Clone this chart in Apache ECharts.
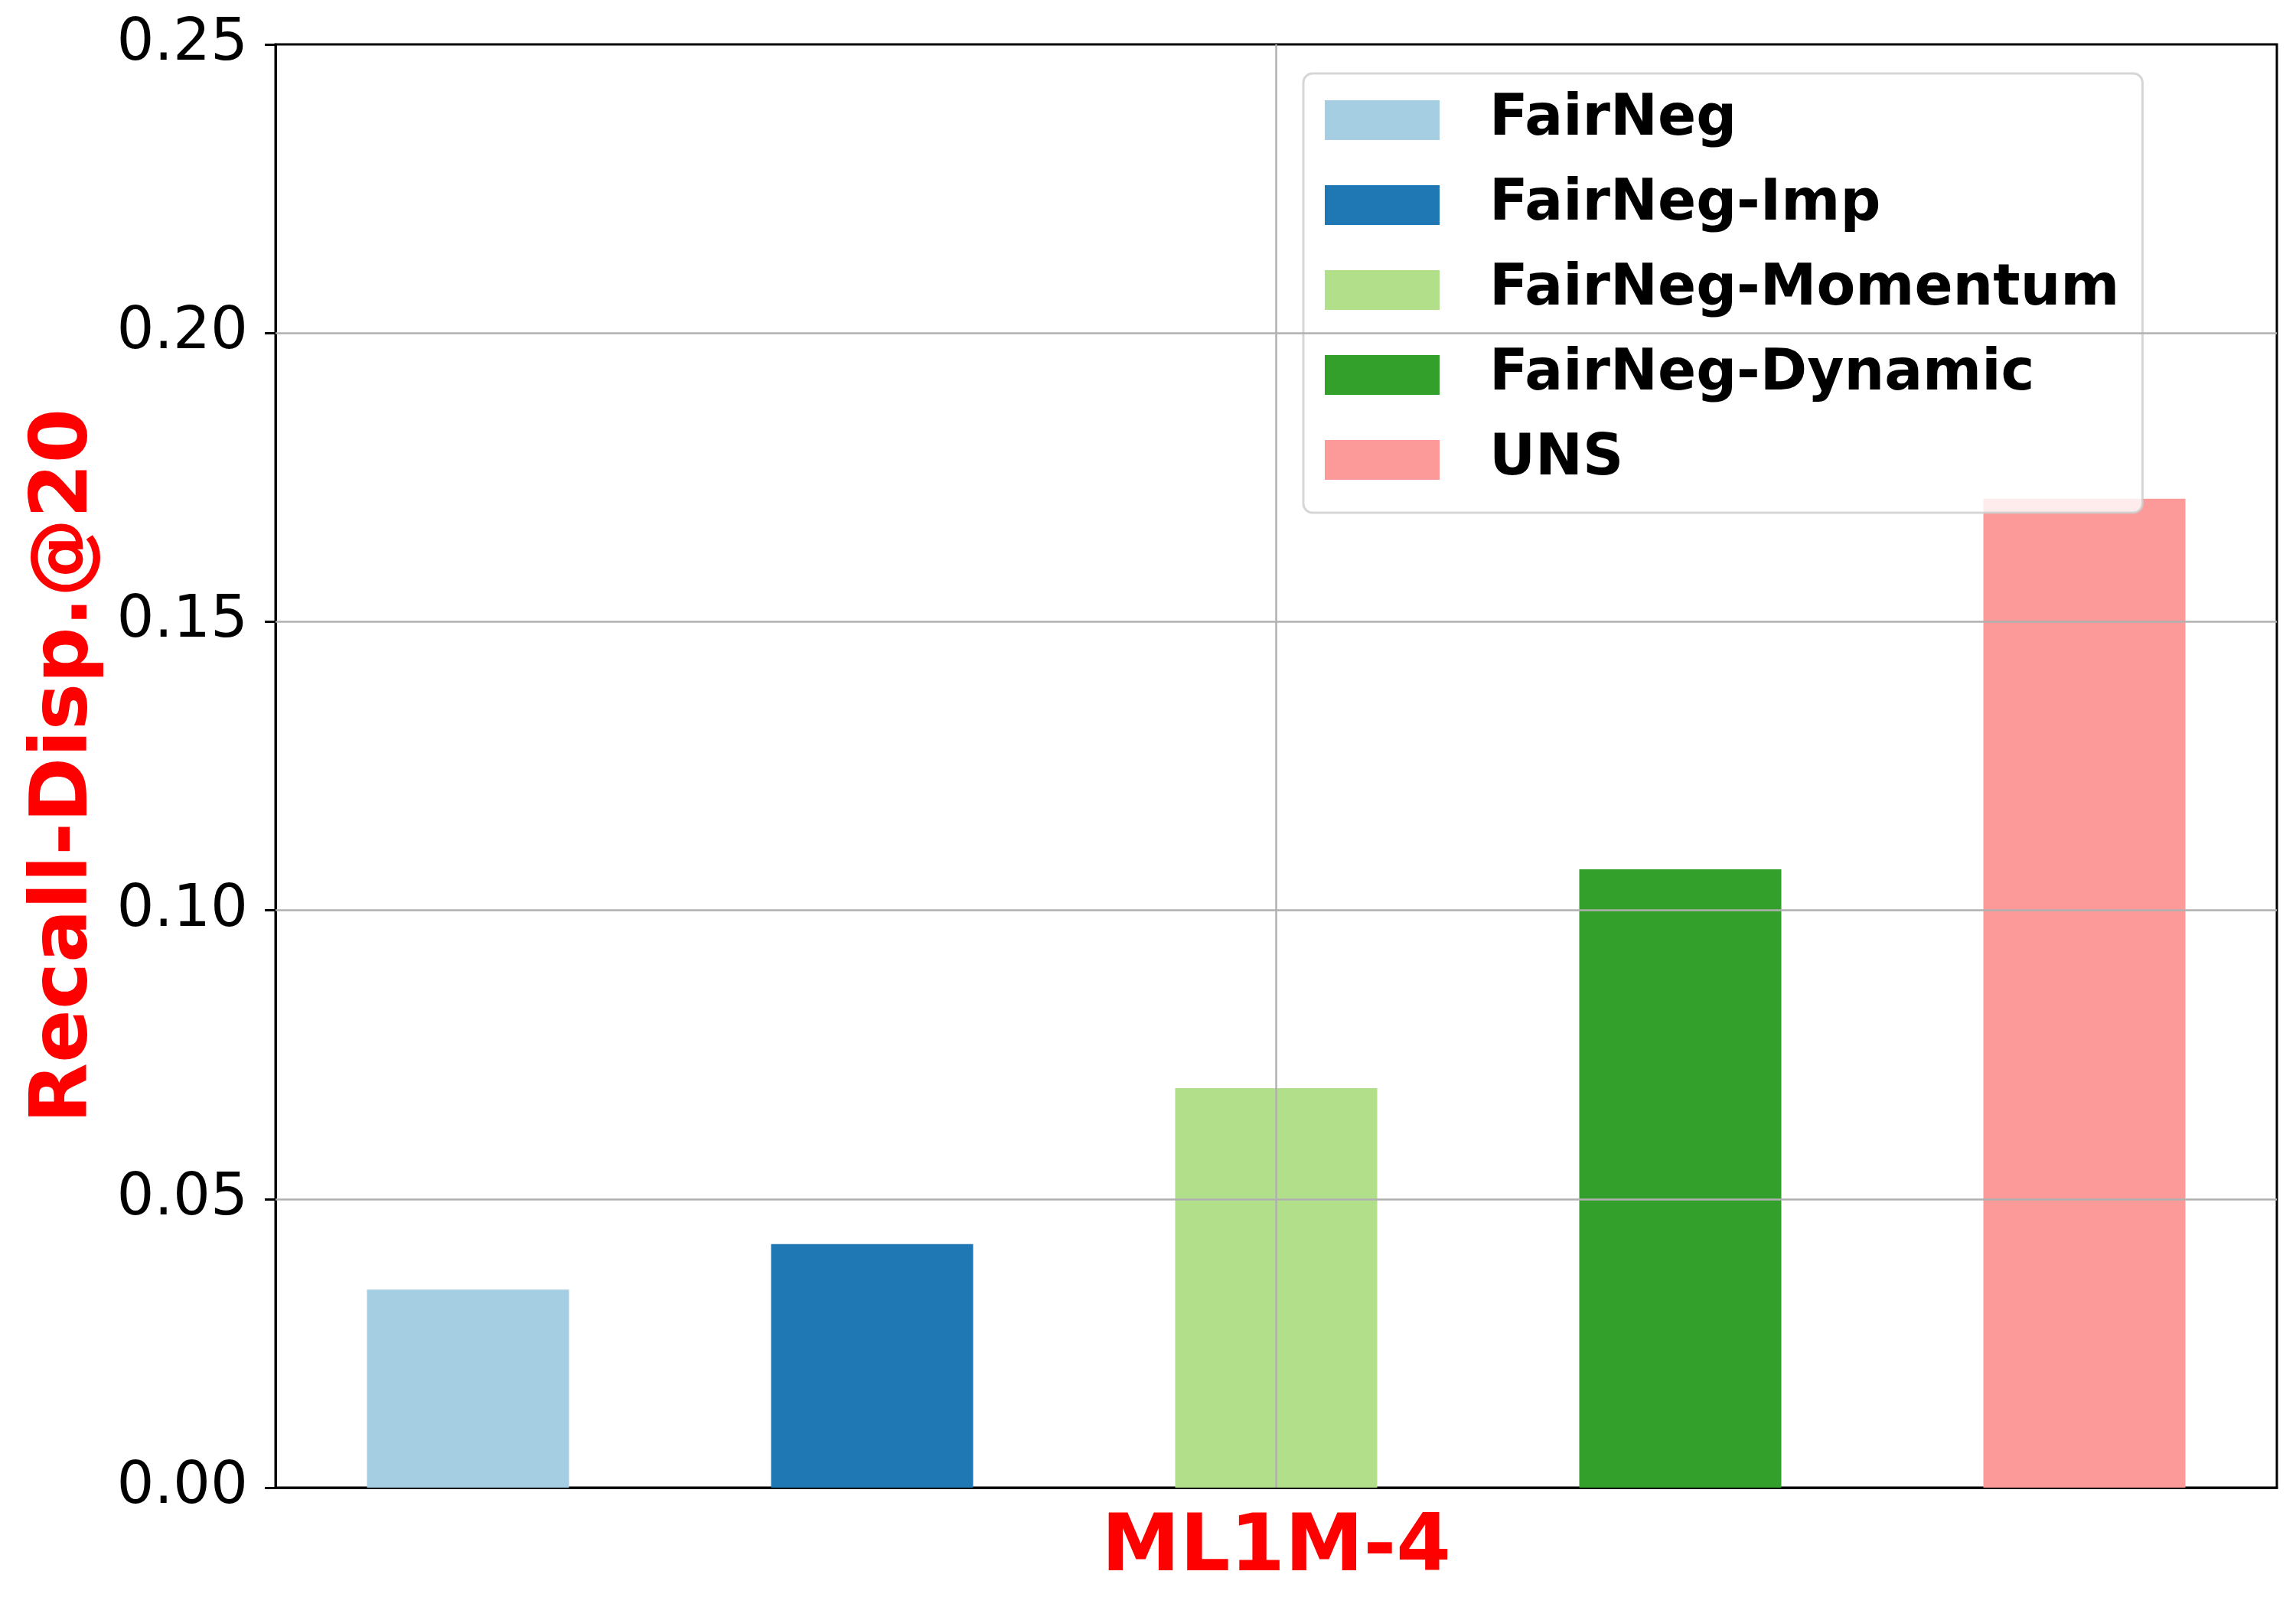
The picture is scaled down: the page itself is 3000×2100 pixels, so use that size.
<!DOCTYPE html>
<html>
<head>
<meta charset="utf-8">
<title>Recall-Disp.@20</title>
<script src="https://cdn.jsdelivr.net/npm/echarts@6/dist/echarts.min.js"></script>
<style>
  html, body { margin: 0; padding: 0; background: #fff; }
  #chart { width: 3000px; height: 2100px; }
</style>
</head>
<body>
<div id="chart"></div>
<script>
var categories = ['ML1M-4'];
var methods = ['FairNeg', 'FairNeg-Imp', 'FairNeg-Momentum', 'FairNeg-Dynamic', 'UNS'];
var values = [0.0343, 0.0422, 0.0692, 0.1071, 0.1713];
var colors = ['#a6cee3', '#1f78b4', '#b2df8a', '#33a02c', '#fb9a99'];
var yTicks = [0.05, 0.10, 0.15, 0.20];

var FONT = '"DejaVu Sans", sans-serif';
var gridColor = '#b0b0b0';

var myChart = echarts.init(document.getElementById('chart'));

function gridMarkLine(data) {
  return {
    silent: true,
    symbol: ['none', 'none'],
    label: { show: false },
    animation: false,
    lineStyle: { color: gridColor, width: 2.5, type: 'solid' },
    data: data
  };
}

var series = methods.map(function (name, i) {
  var s = {
    name: name,
    type: 'bar',
    data: [values[i]],
    barWidth: 264,
    barGap: '100%',
    itemStyle: { color: colors[i] },
    animation: false
  };
  // middle bar sits on the category centre -> vertical gridline there
  if (i === 2) {
    s.markLine = gridMarkLine([{ xAxis: categories[0] }]);
  }
  // horizontal gridlines on the last series so they are drawn over all bars
  if (i === methods.length - 1) {
    s.markLine = gridMarkLine(yTicks.map(function (v) { return { yAxis: v }; }));
  }
  return s;
});

var option = {
  backgroundColor: '#ffffff',
  animation: false,
  grid: {
    left: 360,
    right: 25,
    top: 58,
    bottom: 156,
    outerBoundsMode: 'none',
    containLabel: false,
    show: true,
    borderColor: '#000',
    borderWidth: 3
  },
  legend: {
    orient: 'vertical',
    left: 1703,
    top: 96,
    padding: [24, 30, 32, 28],
    itemWidth: 150,
    itemHeight: 52,
    itemGap: 37,
    icon: 'rect',
    backgroundColor: 'rgba(255,255,255,0.8)',
    borderColor: 'rgba(204,204,204,0.8)',
    borderWidth: 3,
    borderRadius: 12,
    data: methods,
    textStyle: {
      fontFamily: FONT,
      fontWeight: 'bold',
      fontSize: 74,
      lineHeight: 74,
      color: '#000',
      padding: [0, 0, 0, 60]
    }
  },
  xAxis: {
    type: 'category',
    data: categories,
    axisLine: { lineStyle: { color: '#000', width: 3 } },
    axisTick: { alignWithLabel: true, length: 14, lineStyle: { color: '#000', width: 3 } },
    axisLabel: {
      margin: 30,
      color: '#ff0000',
      fontFamily: FONT,
      fontWeight: 'bold',
      fontSize: 103
    },
    splitLine: { show: false }
  },
  yAxis: {
    type: 'value',
    min: 0,
    max: 0.25,
    interval: 0.05,
    name: 'Recall-Disp.@20',
    nameLocation: 'middle',
    nameGap: 222,
    nameTextStyle: {
      color: '#ff0000',
      fontFamily: FONT,
      fontWeight: 'bold',
      fontSize: 103
    },
    axisLine: { show: true, lineStyle: { color: '#000', width: 3 } },
    axisTick: { show: true, length: 14, lineStyle: { color: '#000', width: 3 } },
    axisLabel: {
      margin: 36,
      color: '#000',
      fontFamily: FONT,
      fontSize: 77,
      formatter: function (v) { return v.toFixed(2); }
    },
    splitLine: { show: false }
  },
  series: series
};

myChart.setOption(option);
</script>
</body>
</html>
